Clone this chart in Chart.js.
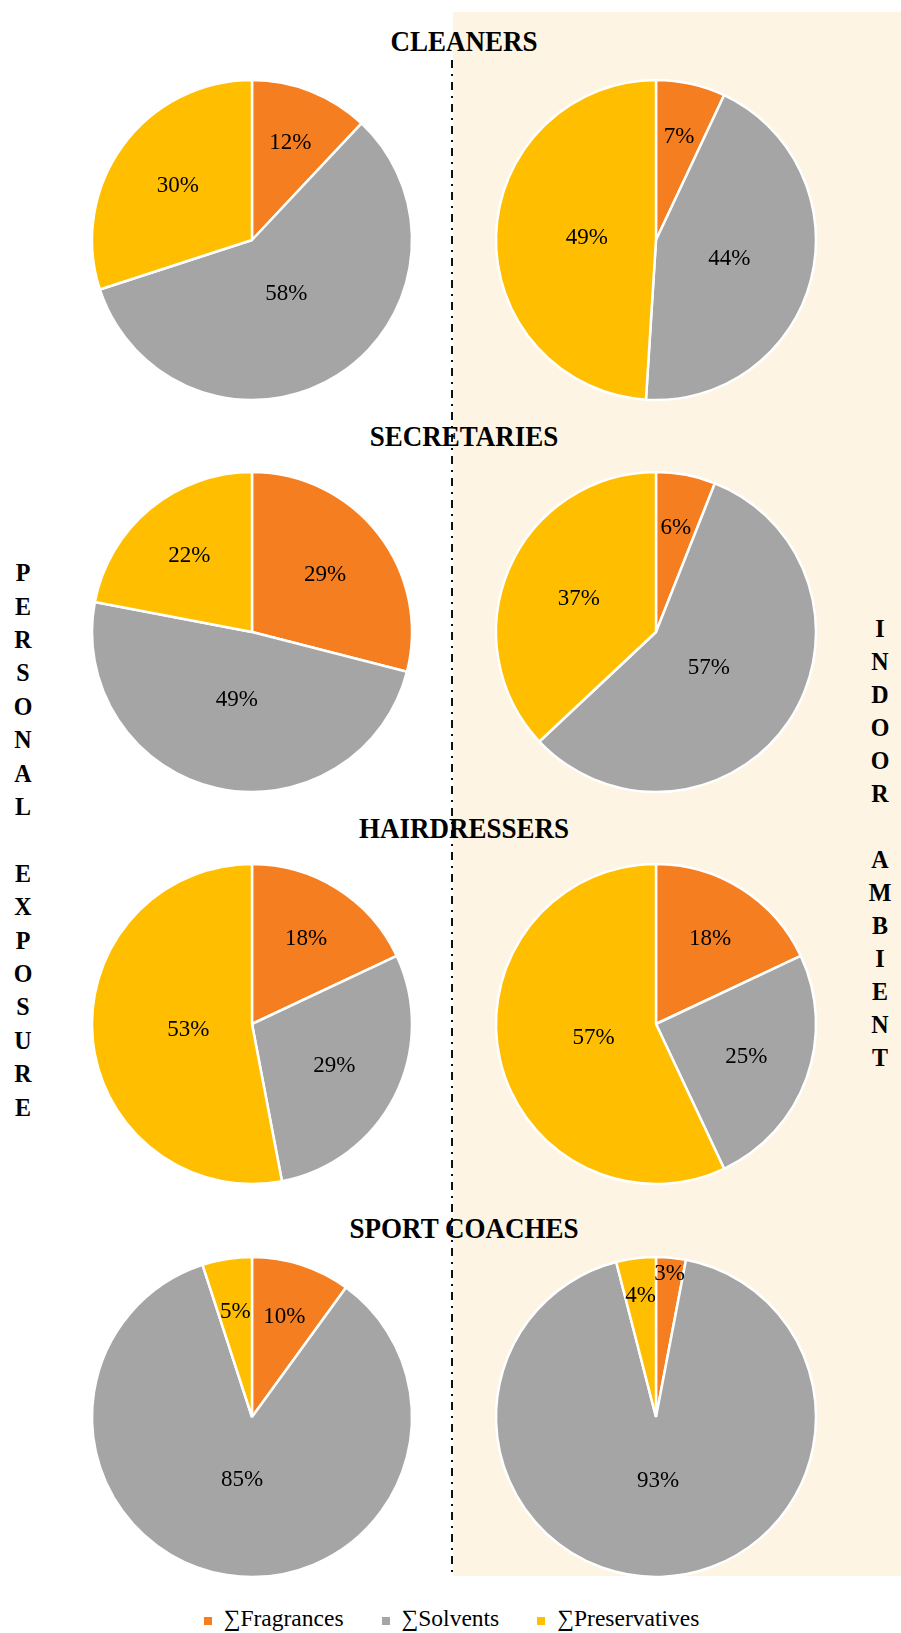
<!DOCTYPE html>
<html><head><meta charset="utf-8">
<script src="https://cdn.jsdelivr.net/npm/chart.js@4.4.0/dist/chart.umd.min.js"></script>
<style>
html,body{margin:0;padding:0;background:#fff;width:901px;height:1633px;overflow:hidden;font-family:"Liberation Serif","Times New Roman",serif;}
#beige{position:absolute;left:453px;top:12px;width:448px;height:1564px;background:#FEF4E3;}
#divider{position:absolute;left:449px;top:0;}
.title{position:absolute;font-weight:bold;font-size:27px;line-height:27px;white-space:nowrap;transform:translate(-50%,-50%) scaleY(1.1);color:#000;}
.vert{position:absolute;font-weight:bold;font-size:24px;text-align:center;width:34px;color:#000;}
.vert div span{display:inline-block;transform:scaleY(1.08);}
.pie{position:absolute;width:340px;height:340px;}
#legend{position:absolute;left:0;width:903px;top:1604px;display:flex;justify-content:center;font-size:23.5px;line-height:28px;color:#000;}
.item{display:flex;align-items:center;margin:0 19px;}
.sw{width:8px;height:8px;margin-right:12px;margin-top:6px;}
</style>
</head><body>
<div id="beige"></div>
<svg id="divider" width="6" height="1633"><line x1="3" y1="60" x2="3" y2="1573" stroke="#111" stroke-width="2" stroke-dasharray="8 6 2 6"/></svg>
<div id="root"></div>
<div id="legend"></div>
<script>
// ---- data ----
const categories = ['∑Fragrances', '∑Solvents', '∑Preservatives'];
const groups = ['CLEANERS', 'SECRETARIES', 'HAIRDRESSERS', 'SPORT COACHES'];
const leftAxisLabel = 'PERSONAL EXPOSURE';
const rightAxisLabel = 'INDOOR AMBIENT';
// values per group: [Fragrances, Solvents, Preservatives] in %
const cleanersPersonal = [12, 58, 30];
const cleanersIndoor = [7, 44, 49];
const secretariesPersonal = [29, 49, 22];
const secretariesIndoor = [6, 57, 37];
const hairdressersPersonal = [18, 29, 53];
const hairdressersIndoor = [18, 25, 57];
const coachesPersonal = [10, 85, 5];
const coachesIndoor = [3, 93, 4];

const colors = ['#F47E20', '#A5A5A5', '#FFBF00'];

// ---- layout ----
const personalSeries = [cleanersPersonal, secretariesPersonal, hairdressersPersonal, coachesPersonal];
const indoorSeries = [cleanersIndoor, secretariesIndoor, hairdressersIndoor, coachesIndoor];
const colX = [252, 656];
const rowY = [240, 632, 1024, 1417];
const titleY = [42, 437, 829, 1229];
const titleX = 464;
const R = 160;

const root = document.getElementById('root');

// titles
groups.forEach((g, i) => {
  const d = document.createElement('div');
  d.className = 'title';
  d.textContent = g;
  d.style.left = titleX + 'px';
  d.style.top = titleY[i] + 'px';
  root.appendChild(d);
});

// vertical labels
function vertical(text, x, yFirst, step) {
  const d = document.createElement('div');
  d.className = 'vert';
  d.style.left = (x - 17) + 'px';
  d.style.top = (yFirst - step / 2) + 'px';
  for (const ch of text) {
    const l = document.createElement('div');
    l.style.height = step + 'px';
    l.style.lineHeight = step + 'px';
    const s = document.createElement('span');
    s.innerHTML = ch === ' ' ? '&nbsp;' : ch;
    l.appendChild(s);
    d.appendChild(l);
  }
  root.appendChild(d);
}
vertical(leftAxisLabel, 23, 573, 33.4);
vertical(rightAxisLabel, 880, 628, 33.0);

// legend
const lg = document.getElementById('legend');
categories.forEach((c, i) => {
  const it = document.createElement('div');
  it.className = 'item';
  const sw = document.createElement('span');
  sw.className = 'sw';
  sw.style.background = colors[i];
  const t = document.createElement('span');
  t.textContent = c;
  it.appendChild(sw); it.appendChild(t);
  lg.appendChild(it);
});

// slice label plugin (Excel-like best-fit placement)
const sliceLabels = {
  id: 'sliceLabels',
  afterDatasetsDraw(chart) {
    const ctx = chart.ctx;
    const meta = chart.getDatasetMeta(0);
    const data = chart.data.datasets[0].data;
    ctx.save();
    ctx.font = '23px "Liberation Serif", "Times New Roman", serif';
    ctx.fillStyle = '#000';
    ctx.textAlign = 'center';
    ctx.textBaseline = 'middle';
    meta.data.forEach((arc, i) => {
      const p = arc.getProps(['x', 'y', 'startAngle', 'endAngle', 'outerRadius'], true);
      const mid = (p.startAngle + p.endAngle) / 2;
      const half = (p.endAngle - p.startAngle) / 2;
      const r = p.outerRadius;
      const text = data[i] + '%';
      const w = ctx.measureText(text).width;
      let d = half > 0 ? 2 * r * Math.sin(half) / (3 * half) : 0;
      if (half > 0 && half < Math.PI / 2) d = Math.max(d, w / (2 * Math.sin(half)));
      d = Math.min(Math.max(d, 0.4 * r), 0.9 * r);
      ctx.fillText(text, p.x + Math.cos(mid) * d, p.y + Math.sin(mid) * d);
    });
    ctx.restore();
  }
};

function makePie(values, cx, cy) {
  const wrap = document.createElement('div');
  wrap.className = 'pie';
  wrap.style.left = (cx - 170) + 'px';
  wrap.style.top = (cy - 170) + 'px';
  const cv = document.createElement('canvas');
  cv.width = 340; cv.height = 340;
  wrap.appendChild(cv);
  root.appendChild(wrap);
  new Chart(cv, {
    type: 'pie',
    data: {
      labels: categories,
      datasets: [{
        data: values,
        backgroundColor: colors,
        borderColor: '#ffffff',
        borderWidth: 2.5
      }]
    },
    options: {
      responsive: false,
      animation: false,
      radius: R,
      layout: { padding: 0 },
      plugins: { legend: { display: false }, tooltip: { enabled: false } }
    },
    plugins: [sliceLabels]
  });
}

rowY.forEach((y, i) => {
  makePie(personalSeries[i], colX[0], y);
  makePie(indoorSeries[i], colX[1], y);
});
</script>
</body></html>
